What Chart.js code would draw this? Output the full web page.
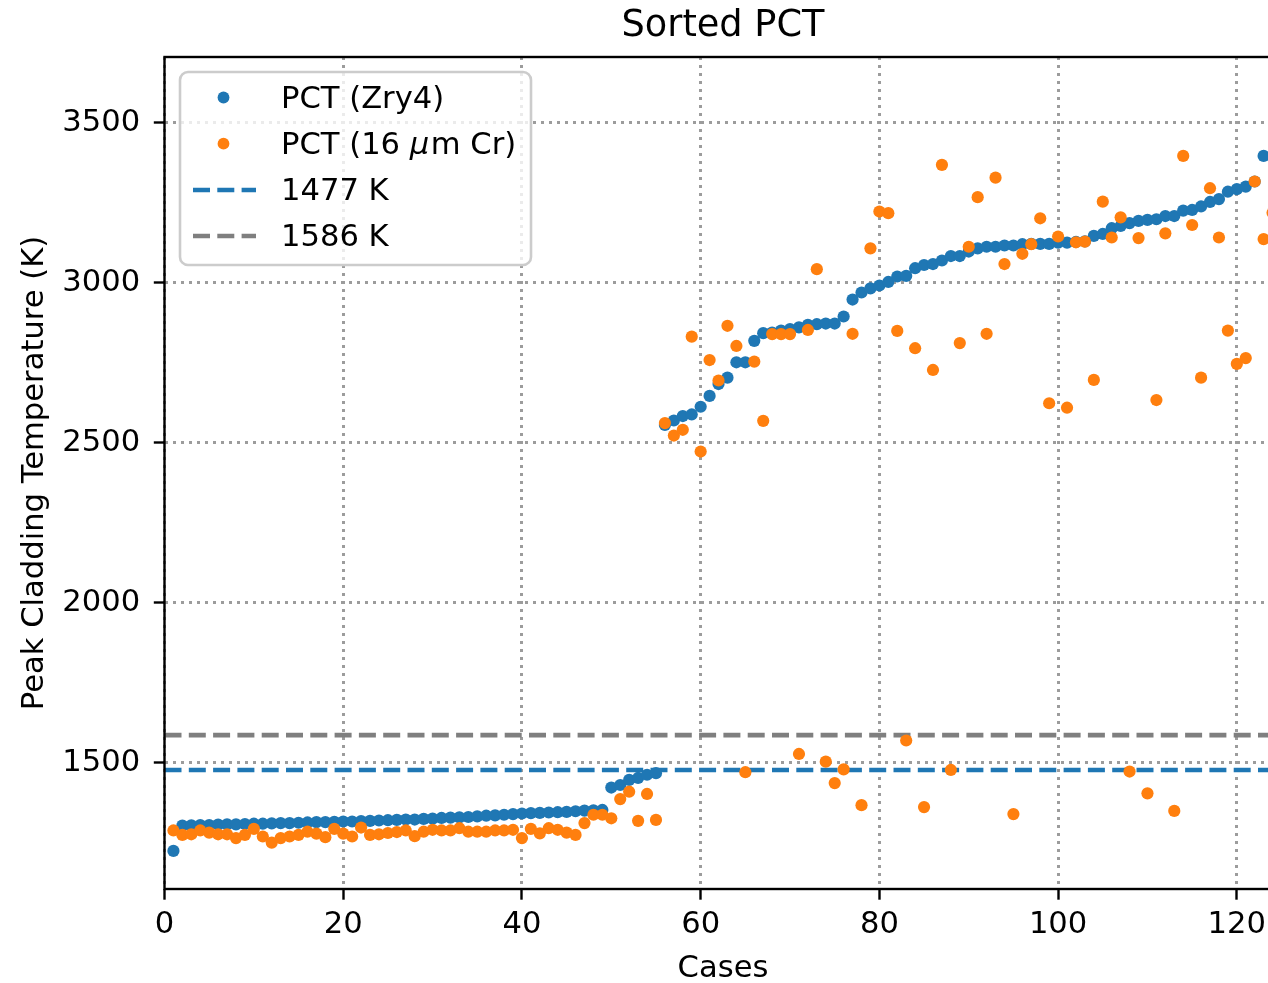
<!DOCTYPE html>
<html>
<head>
<meta charset="utf-8">
<script src="https://cdn.jsdelivr.net/npm/chart.js@4.4.1/dist/chart.umd.min.js"></script>
<style>
html, body { margin:0; padding:0; overflow:hidden; background:#ffffff; width:1268px; height:983px; }
#wrap { position:absolute; left:0; top:0; width:1300px; height:983px; }
</style>
</head>
<body>
<div id="wrap"><canvas id="c" width="1300" height="983"></canvas></div>
<script>
// ---- data ----
const cases = [1,2,3,4,5,6,7,8,9,10,11,12,13,14,15,16,17,18,19,20,21,22,23,24,25,26,27,28,29,30,
  31,32,33,34,35,36,37,38,39,40,41,42,43,44,45,46,47,48,49,50,51,52,53,54,55,56,57,58,59,60,
  61,62,63,64,65,66,67,68,69,70,71,72,73,74,75,76,77,78,79,80,81,82,83,84,85,86,87,88,89,90,
  91,92,93,94,95,96,97,98,99,100,101,102,103,104,105,106,107,108,109,110,111,112,113,114,115,116,117,118,119,120,
  121,122,123,124];

const pctZry4 = [1224,1303,1304,1305,1305,1306,1307,1307,1308,1309,1309,1310,1311,1311,1312,1313,1314,1314,1315,1316,
  1316,1317,1318,1319,1320,1321,1322,1322,1324,1325,1327,1328,1329,1330,1332,1334,1335,1337,1339,1341,
  1342,1343,1344,1345,1346,1348,1350,1351,1352,1422,1430,1446,1452,1462,1467,2555,2569,2583,2588,2612,
  2646,2683,2703,2751,2751,2818,2842,2844,2850,2855,2860,2868,2870,2872,2872,2894,2947,2969,2982,2991,
  3002,3019,3021,3045,3055,3058,3069,3083,3083,3097,3107,3112,3112,3116,3116,3120,3121,3121,3121,3125,
  3125,3127,3129,3146,3152,3170,3177,3186,3193,3196,3198,3208,3208,3225,3227,3238,3252,3261,3284,3292,
  3300,3316,3396,null];

const pctCr16 = [1288,1274,1276,1288,1281,1276,1276,1264,1274,1293,1269,1250,1264,1269,1274,1284,1278,1267,1293,1278,
  1269,1297,1274,1276,1280,1283,1288,1270,1284,1290,1288,1288,1295,1284,1284,1284,1288,1288,1290,1264,
  1293,1279,1295,1290,1281,1274,1311,1337,1337,1326,1386,1409,1318,1402,1321,2561,2522,2540,2831,2472,
  2758,2694,2865,2802,1470,2753,2568,2839,2839,2839,1527,2852,3042,1503,1436,1479,2840,1367,3107,3222,
  3217,2849,1569,2795,1361,2727,3368,1477,2811,3112,3267,2840,3328,3058,1339,3090,3120,3201,2623,3144,
  2609,3126,3128,2696,3253,3141,3204,1472,3139,1404,2633,3154,1349,3396,3180,2703,3295,3141,2850,2746,
  2764,3316,3136,3218];

const limitZry = 1477;
const limitCr = 1586;
const seriesLabels = ['PCT (Zry4)', 'PCT (16 μm Cr)', '1477 K', '1586 K'];
const xTicks = [0,20,40,60,80,100,120];
const yTicks = [1500,2000,2500,3000,3500];
const xRange = [0,125];
const yRange = [1105,3705];

// ---- styling constants ----
const FONT = 'DejaVu Sans';
const FS = 30.6;
const BLUE = '#1f77b4', ORANGE = '#ff7f0e', GRAY = '#7f7f7f';
const PR = 6.1;

const toPts = (ys) => ys.map((y,i) => ({x: cases[i], y: y}));

const spinePlugin = {
  id: 'spines',
  afterDatasetsDraw(chart) {
    const {ctx, chartArea: a} = chart;
    ctx.save();
    ctx.strokeStyle = '#000';
    ctx.lineWidth = 2.4;
    ctx.setLineDash([]);
    ctx.strokeRect(a.left, a.top, a.right - a.left, a.bottom - a.top);
    ctx.restore();
  }
};

const legendPlugin = {
  id: 'mplLegend',
  afterDraw(chart) {
    const ctx = chart.ctx;
    const ds = chart.data.datasets;
    const bx = 180, by = 72, bw = 351, bh = 193, r = 8;
    ctx.save();
    ctx.beginPath();
    ctx.moveTo(bx + r, by);
    ctx.arcTo(bx + bw, by, bx + bw, by + bh, r);
    ctx.arcTo(bx + bw, by + bh, bx, by + bh, r);
    ctx.arcTo(bx, by + bh, bx, by, r);
    ctx.arcTo(bx, by, bx + bw, by, r);
    ctx.closePath();
    ctx.fillStyle = 'rgba(255,255,255,0.8)';
    ctx.fill();
    ctx.strokeStyle = '#cccccc';
    ctx.lineWidth = 2.6;
    ctx.stroke();

    const rows = [97.5, 143.7, 190, 236];
    const textX = 281;
    ctx.textBaseline = 'middle';
    ctx.textAlign = 'left';
    ds.forEach((d, i) => {
      const y = rows[i];
      if (d.showLine === false) {
        ctx.beginPath();
        ctx.fillStyle = d.backgroundColor;
        ctx.arc(223.5, y, 5.9, 0, Math.PI * 2);
        ctx.fill();
      } else {
        ctx.beginPath();
        ctx.strokeStyle = d.borderColor;
        ctx.lineWidth = d.borderWidth;
        ctx.setLineDash(d.borderDash);
        ctx.moveTo(193, y);
        ctx.lineTo(256, y);
        ctx.stroke();
        ctx.setLineDash([]);
      }
      const ty = y + 2.5;
      ctx.fillStyle = '#000';
      const label = d.label;
      const k = label.indexOf('μ');
      if (k < 0) {
        ctx.font = FS + 'px "' + FONT + '"';
        ctx.fillText(label, textX, ty);
      } else {
        const a = label.slice(0, k), b = label.slice(k + 1);
        ctx.font = FS + 'px "' + FONT + '"';
        ctx.fillText(a, textX, ty);
        let x = textX + ctx.measureText(a).width;
        ctx.font = 'italic ' + FS + 'px "' + FONT + '"';
        ctx.fillText('μ', x, ty);
        x += ctx.measureText('μ').width + 1.5;
        ctx.font = FS + 'px "' + FONT + '"';
        ctx.fillText(b, x, ty);
      }
    });
    ctx.restore();
  }
};

const gridCommon = {
  color: '#9c9c9c',
  lineWidth: 3,
  drawTicks: true,
  tickLength: 10.7,
  tickColor: '#000',
  tickWidth: 2.4,
  tickBorderDash: []
};
const borderCommon = { display: false, dash: [3, 5] };

new Chart(document.getElementById('c'), {
  type: 'scatter',
  data: {
    datasets: [
      { label: seriesLabels[0], data: toPts(pctZry4), showLine: false,
        backgroundColor: BLUE, borderColor: BLUE, pointRadius: PR, pointHoverRadius: PR,
        pointBorderWidth: 0, order: 2 },
      { label: seriesLabels[1], data: toPts(pctCr16), showLine: false,
        backgroundColor: ORANGE, borderColor: ORANGE, pointRadius: PR, pointHoverRadius: PR,
        pointBorderWidth: 0, order: 1 },
      { type: 'line', label: seriesLabels[2],
        data: [{x: xRange[0], y: limitZry}, {x: xRange[1], y: limitZry}],
        borderColor: BLUE, backgroundColor: BLUE, borderWidth: 4.6, borderDash: [17, 7.3],
        pointRadius: 0, showLine: true, fill: false, order: 3 },
      { type: 'line', label: seriesLabels[3],
        data: [{x: xRange[0], y: limitCr}, {x: xRange[1], y: limitCr}],
        borderColor: GRAY, backgroundColor: GRAY, borderWidth: 4.6, borderDash: [17, 7.3],
        pointRadius: 0, showLine: true, fill: false, order: 4 }
    ]
  },
  options: {
    responsive: false,
    animation: false,
    devicePixelRatio: 1,
    layout: { padding: { left: 0, right: 18.5, top: 0, bottom: 0 } },
    plugins: {
      legend: { display: false },
      tooltip: { enabled: false },
      title: {
        display: true, text: 'Sorted PCT', fullSize: false,
        color: '#000', font: { family: FONT, size: 36.7, weight: 'normal', lineHeight: 1.0 },
        padding: { top: 8.6, bottom: 11.7 }
      }
    },
    scales: {
      x: {
        type: 'linear', min: xRange[0], max: xRange[1],
        afterBuildTicks: (s) => { s.ticks = xTicks.map(v => ({value: v})); },
        afterFit: (s) => { s.height = 94; },
        grid: gridCommon,
        border: borderCommon,
        ticks: { color: '#000', padding: 10, font: { family: FONT, size: FS, lineHeight: 1.0 },
                 maxRotation: 0, autoSkip: false, callback: (v) => String(v) },
        title: { display: true, text: 'Cases', color: '#000',
                 font: { family: FONT, size: FS, lineHeight: 1.0 }, padding: { top: 0, bottom: -1.3 } }
      },
      y: {
        type: 'linear', min: yRange[0], max: yRange[1],
        afterBuildTicks: (s) => { s.ticks = yTicks.map(v => ({value: v})); },
        afterFit: (s) => { s.width = 164.5; },
        grid: gridCommon,
        border: borderCommon,
        ticks: { color: '#000', padding: 13.7, font: { family: FONT, size: FS, lineHeight: 1.0 },
                 autoSkip: false, callback: (v) => String(v) },
        title: { display: true, text: 'Peak Cladding Temperature (K)', color: '#000',
                 font: { family: FONT, size: FS, lineHeight: 1.0 }, padding: { top: 20.2, bottom: 0 } }
      }
    }
  },
  plugins: [spinePlugin, legendPlugin]
});
</script>
</body>
</html>
